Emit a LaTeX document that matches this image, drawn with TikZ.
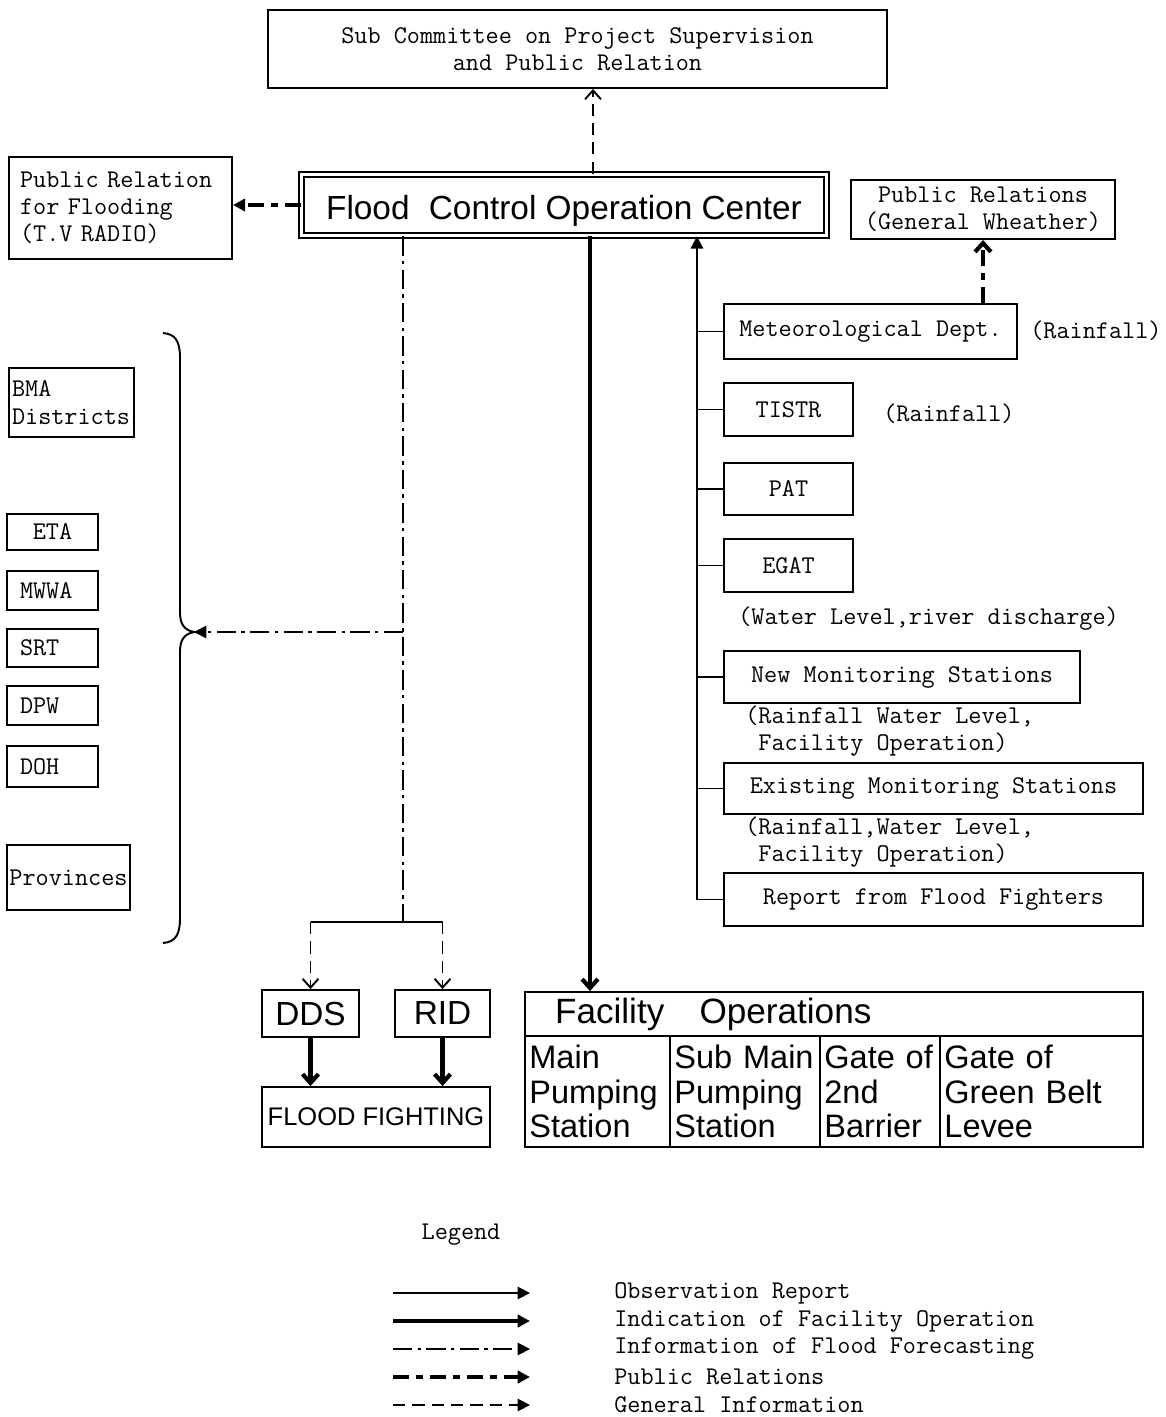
\documentclass[tikz,border=0pt]{standalone}
\usepackage{fontspec}
\setsansfont{Liberation Sans}
\usetikzlibrary{arrows.meta}

\begin{document}
\begin{tikzpicture}[x=0.02cm, y=-0.02cm,
    box/.style={draw, line width=1.1pt, inner sep=1pt, align=center,
      font=\ttfamily\fontsize{14.5pt}{15.5pt}\selectfont},
    sfbox/.style={draw, line width=1.1pt, inner sep=1pt,
      font=\sffamily\fontsize{19pt}{19.5pt}\selectfont},
    cell/.style={draw, line width=1.1pt, inner xsep=2.5pt, inner ysep=0pt, align=left,
      font=\sffamily\fontsize{18.5pt}{19.5pt}\selectfont},
    lab/.style={inner sep=0pt, anchor=west, align=left,
      font=\ttfamily\fontsize{14.5pt}{15.5pt}\selectfont},
    obsline/.style={line width=1.1pt},
    opline/.style={line width=2.4pt},
    fcline/.style={line width=1.1pt, dash pattern=on 11pt off 3pt on 2pt off 3pt},
    prline/.style={line width=2.4pt, dash pattern=on 9pt off 4pt on 4pt off 4pt},
    genline/.style={line width=1.1pt, dash pattern=on 7pt off 4pt},
    arrbarb/.style={-{Straight Barb[length=5pt,width=9pt]}},
    arrtri/.style={-{Triangle[length=7pt,width=7pt]}}]
    \useasboundingbox (0,0) rectangle (1166,1417);

    % top row
    \node[box, minimum width=12.38cm, minimum height=1.56cm] (sub) at (577.5,49) {Sub Committee on Project Supervision\\and Public Relation};
    \node[sfbox, double, line width=0.8pt, double distance=2pt, minimum width=10.5cm, minimum height=1.22cm,
      text height=14pt, text depth=4pt] (fcoc) at (564,205) {\raisebox{-3.5pt}{Flood\hspace{0.3em} Control Operation Center}};
    \node[box, align=left, text width=4.02cm, inner xsep=0.22cm, minimum height=2.04cm] (prf) at (120.5,208) {Public Relation\\for Flooding\\(T.V RADIO)};
    \node[box, minimum width=5.28cm, minimum height=1.18cm] (prw) at (983,209.5) {Public Relations\\(General Wheather)};

    % observation sources
    \node[box, minimum width=5.86cm, minimum height=1.1cm] (met) at (870.5,331.5) {Meteorological Dept.};
    \node[box, minimum width=2.58cm, minimum height=1.06cm] (tistr) at (788.5,409.5) {TISTR};
    \node[box, minimum width=2.58cm, minimum height=1.04cm] (pat) at (788.5,489) {PAT};
    \node[box, minimum width=2.58cm, minimum height=1.06cm] (egat) at (788.5,565.5) {EGAT};
    \node[box, minimum width=7.12cm, minimum height=1.04cm] (newms) at (902,677) {New Monitoring Stations};
    \node[box, minimum width=8.38cm, minimum height=1.02cm] (exms) at (933.5,788.5) {Existing Monitoring Stations};
    \node[box, minimum width=8.38cm, minimum height=1.06cm] (rep) at (933.5,899.5) {Report from Flood Fighters};

    \node[lab] (metrain) at (1030,331) {(Rainfall)};
    \node[lab] (tistrrain) at (883,414) {(Rainfall)};
    \node[lab] (egatlab) at (738,619) {(Water Level,river discharge)};
    \node[lab] (newlab) at (745,731) {(Rainfall Water Level,\\\phantom{(}Facility Operation)};
    \node[lab] (exlab) at (745,842) {(Rainfall,Water Level,\\\phantom{(}Facility Operation)};

    % agencies on the left
    \node[box, align=left, text width=2.38cm, inner xsep=0.06cm, minimum height=1.38cm] (bma) at (71.5,402.5) {BMA\\Districts};
    \node[box, minimum width=1.82cm, minimum height=0.72cm] (eta) at (52.5,532) {ETA};
    \node[box, align=left, text width=1.3cm, inner xsep=0.26cm, minimum height=0.78cm] (mwwa) at (52.5,590.5) {MWWA};
    \node[box, align=left, text width=1.3cm, inner xsep=0.26cm, minimum height=0.76cm] (srt) at (52.5,648) {SRT};
    \node[box, align=left, text width=1.3cm, inner xsep=0.26cm, minimum height=0.78cm] (dpw) at (52.5,705.5) {DPW};
    \node[box, align=left, text width=1.3cm, inner xsep=0.26cm, minimum height=0.82cm] (doh) at (52.5,766.5) {DOH};
    \node[box, minimum width=2.46cm, minimum height=1.3cm] (prov) at (68.5,877.5) {Provinces};

    % bottom
    \node[sfbox, minimum width=1.94cm, minimum height=0.94cm] (dds) at (310.5,1013.5) {DDS};
    \node[sfbox, minimum width=1.9cm, minimum height=0.94cm] (rid) at (442.5,1013.5) {RID};
    \node[sfbox, font=\sffamily\fontsize{14.5pt}{15pt}\selectfont, minimum width=4.56cm, minimum height=1.2cm] (ff) at (376,1117) {FLOOD FIGHTING};

    \node[cell, text width=11.16cm, inner xsep=0.6cm, minimum height=0.88cm, font=\sffamily\fontsize{20pt}{20pt}\selectfont] (fach) at (834,1014) {Facility\hspace{1em}Operations};
    \node[cell, text width=77.5pt, minimum height=2.22cm] (mainps) at (597.5,1091.5) {Main\\Pumping\\Station};
    \node[cell, text width=80.3pt, minimum height=2.22cm] (subps) at (745,1091.5) {Sub Main\\Pumping\\Station};
    \node[cell, text width=63.3pt, minimum height=2.22cm] (gate2) at (880,1091.5) {Gate of\\2nd\\Barrier};
    \node[cell, text width=110.5pt, minimum height=2.22cm] (gategb) at (1041.5,1091.5) {Gate of\\Green Belt\\Levee};

    % connectors
    \coordinate (gi) at (593,0);
    \draw[genline, arrbarb] (gi |- fcoc.north) -- (gi |- sub.south);
    \draw[prline, arrtri] (fcoc.west) -- (fcoc.west -| prf.east);
    \draw[prline, arrbarb] (prw.south |- met.north) -- (prw.south);

    \coordinate (obs) at (697,899.5);
    \draw[obsline, arrtri] (rep.west) -- (obs) -- (obs |- fcoc.south);
    \foreach \nm in {met,tistr,pat,egat,newms,exms}
      \draw[obsline] (\nm.west) -- (\nm.west -| obs);

    \coordinate (ind) at (590,0);
    \draw[opline, arrbarb] (ind |- fcoc.south) -- (ind |- fach.north);

    \coordinate (fc) at (403,922);
    \coordinate (bracetip) at (194,632);
    \draw[fcline] (fc |- fcoc.south) -- (fc);
    \draw[fcline, arrtri] (fc |- bracetip) -- (bracetip);
    \draw[obsline] (dds.north |- fc) -- (rid.north |- fc);
    \draw[genline, arrbarb] (dds.north |- fc) -- (dds.north);
    \draw[genline, arrbarb] (rid.north |- fc) -- (rid.north);
    \draw[opline, arrbarb] (dds.south) -- (dds.south |- ff.north);
    \draw[opline, arrbarb] (rid.south) -- (rid.south |- ff.north);

    % brace
    \draw[line width=1.1pt] (163,333) .. controls (176,334) and (180,342) .. (180,358) -- (180,612)
      .. controls (180,624) and (184,630) .. (bracetip) .. controls (184,634) and (180,640) .. (180,652)
      -- (180,918) .. controls (180,934) and (176,942) .. (163,943);

    % legend
    \node[font=\ttfamily\fontsize{14.5pt}{15.5pt}\selectfont] (legtitle) at (461,1235) {Legend};
    \draw[obsline, arrtri] (393,1293) -- (530,1293);
    \draw[opline, arrtri] (393,1321) -- (530,1321);
    \draw[fcline, arrtri] (393,1349) -- (530,1349);
    \draw[prline, arrtri] (393,1377) -- (530,1377);
    \draw[genline, arrtri] (393,1405) -- (530,1405);
    \node[lab] (leg1) at (614,1293) {Observation Report};
    \node[lab] (leg2) at (614,1321) {Indication of Facility Operation};
    \node[lab] (leg3) at (614,1349) {Information of Flood Forecasting};
    \node[lab] (leg4) at (614,1377) {Public Relations};
    \node[lab] (leg5) at (614,1405) {General Information};
  \end{tikzpicture}
\end{document}
